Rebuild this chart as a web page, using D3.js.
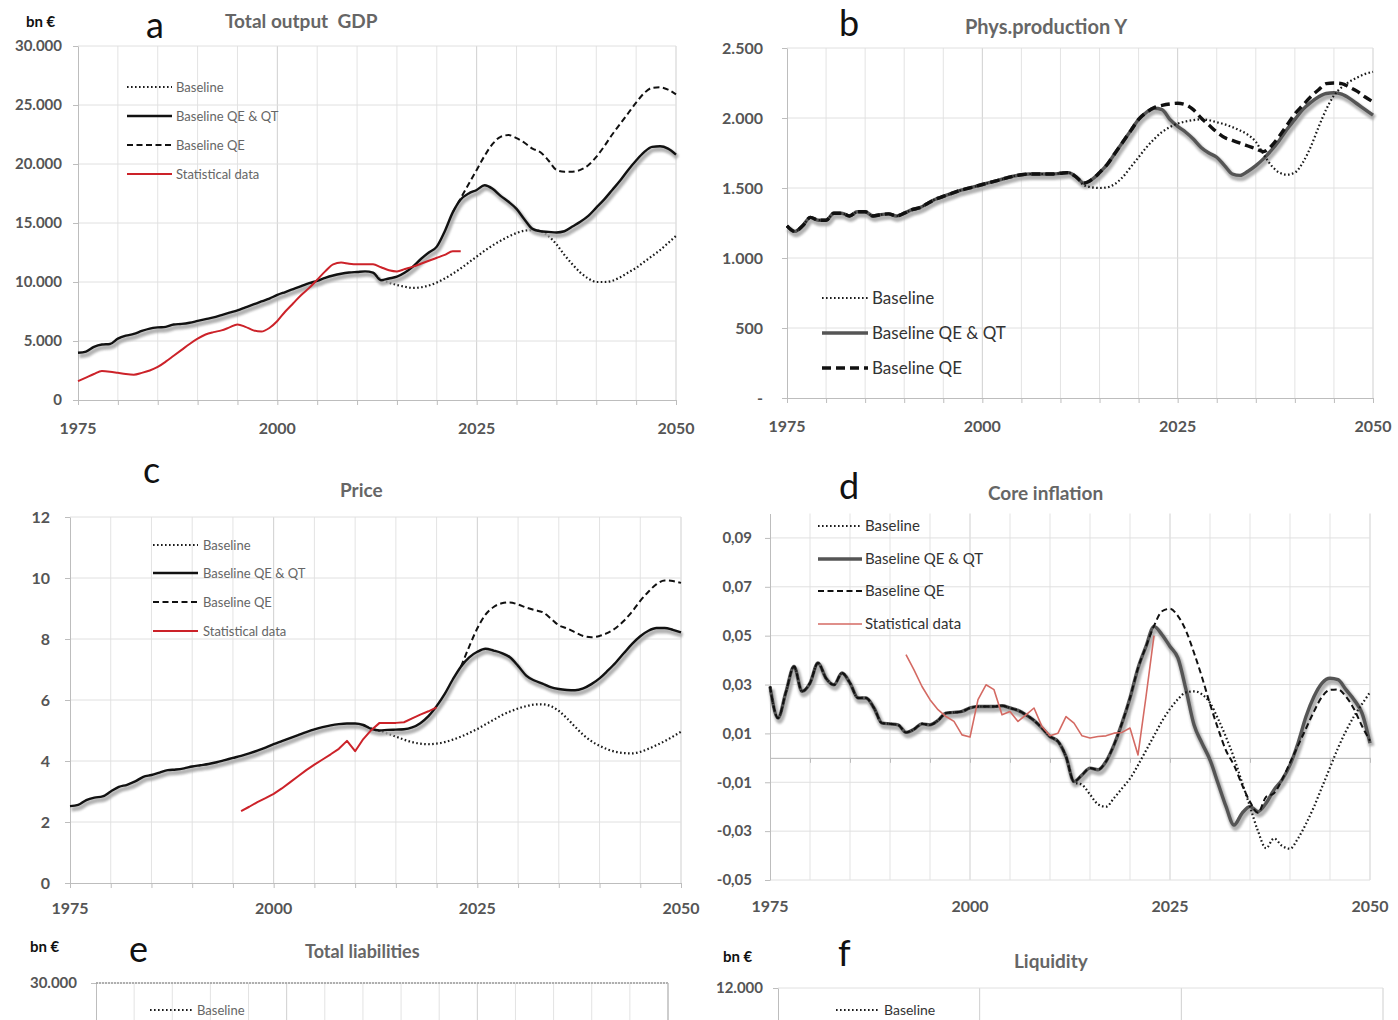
<!DOCTYPE html>
<html><head><meta charset="utf-8">
<script src="https://cdn.jsdelivr.net/npm/d3@7"></script>
<style>
body{margin:0;background:#fff}
svg{display:block}
text{font-family:Lato,"Open Sans",sans-serif;white-space:pre}
</style>
</head><body>
<svg id="chart" width="1398" height="1020"></svg>
<script>
// ---------- DATA ----------
const xLabels = [1975, 2000, 2025, 2050];
const legendNames = ["Baseline", "Baseline QE & QT", "Baseline QE", "Statistical data"];

// (a) Total output GDP, bn €
const gdpTicks = [0, 5000, 10000, 15000, 20000, 25000, 30000];
const gdpQEQTFrom = 1975;
const gdpQEQT = [4000,4100,4500,4700,4750,5200,5450,5600,5850,6050,
  6150,6200,6400,6450,6550,6700,6850,7000,7200,7400,
  7600,7850,8100,8350,8600,8900,9150,9400,9650,9900,
  10100,10350,10550,10700,10800,10850,10900,10800,10150,10300,
  10450,10800,11300,11950,12500,13000,14300,15900,17000,17500,
  17800,18200,17900,17300,16800,16200,15300,14500,14300,14250,
  14200,14300,14700,15100,15600,16300,17000,17800,18600,19500,
  20300,21000,21450,21500,21300,20800];
const gdpBaselineFrom = 2012;
const gdpBaseline = [10800,10200,9950,
  9750,9600,9500,9550,9700,9950,10300,10700,11150,11650,
  12150,12650,13100,13500,13850,14150,14350,14400,14300,13900,
  13200,12300,11500,10800,10300,10000,10000,10100,10400,10800,
  11200,11700,12200,12700,13300,13900];
const gdpQEFrom = 2022;
const gdpQE = [15900,17100,18300,
  19500,20700,21700,22300,22450,22200,21800,21300,21000,20300,
  19500,19350,19350,19500,19900,20600,21500,22500,23400,24300,
  25200,26000,26450,26500,26300,25900];
const gdpStatFrom = 1975;
const gdpStat = [1600,1900,2200,2450,2400,2300,2200,2150,2300,2500,
  2800,3250,3750,4250,4750,5200,5550,5750,5900,6150,
  6400,6200,5900,5800,6100,6700,7500,8200,8900,9500,
  10200,10900,11500,11650,11550,11500,11500,11500,11250,11000,
  10900,11100,11300,11550,11800,12050,12300,12600,12600];

// (b) Phys.production Y
const prodTicks = [0, 500, 1000, 1500, 2000, 2500];
const prodFrom = 1975;
const prodQEQT = [1230,1190,1230,1290,1270,1270,1320,1320,1300,1330,
  1330,1300,1310,1315,1300,1320,1345,1360,1390,1420,
  1440,1460,1480,1495,1510,1525,1540,1555,1570,1585,
  1595,1600,1600,1600,1600,1605,1610,1580,1535,1560,
  1610,1670,1750,1830,1910,1990,2040,2070,2060,1990,
  1940,1900,1850,1790,1750,1720,1660,1600,1590,1620,
  1660,1710,1770,1840,1920,1990,2060,2110,2150,2175,
  2180,2170,2140,2100,2060,2020];
const prodQE = [1230,1190,1230,1290,1270,1270,1320,1320,1300,1330,
  1330,1300,1310,1315,1300,1320,1345,1360,1390,1420,
  1440,1460,1480,1495,1510,1525,1540,1555,1570,1585,
  1595,1600,1600,1600,1600,1605,1610,1580,1535,1560,
  1610,1670,1750,1830,1910,1990,2040,2075,2090,2100,
  2105,2095,2060,2000,1950,1900,1860,1840,1820,1800,
  1780,1760,1800,1870,1950,2030,2090,2150,2200,2245,
  2250,2245,2220,2190,2150,2115];
const prodBaseline = [1230,1190,1230,1290,1270,1270,1320,1320,1300,1330,
  1330,1300,1310,1315,1300,1320,1345,1360,1390,1420,
  1440,1460,1480,1495,1510,1525,1540,1555,1570,1585,
  1595,1600,1600,1600,1600,1605,1610,1580,1520,1505,
  1500,1505,1530,1580,1650,1720,1790,1850,1900,1935,
  1960,1975,1985,1990,1985,1970,1955,1935,1910,1880,
  1830,1740,1660,1610,1595,1610,1680,1790,1930,2060,
  2160,2220,2260,2290,2315,2330];

// (c) Price
const priceTicks = [0, 2, 4, 6, 8, 10, 12];
const priceQEQTFrom = 1975;
const priceQEQT = [2.52,2.56,2.72,2.80,2.84,3.00,3.15,3.22,3.33,3.48,
  3.54,3.62,3.70,3.72,3.76,3.82,3.86,3.90,3.96,4.03,
  4.10,4.17,4.25,4.34,4.44,4.55,4.65,4.75,4.85,4.95,
  5.04,5.11,5.17,5.21,5.23,5.23,5.18,5.05,5.00,5.02,
  5.03,5.04,5.10,5.24,5.47,5.80,6.20,6.68,7.10,7.40,
  7.58,7.68,7.62,7.54,7.40,7.12,6.80,6.64,6.54,6.42,
  6.36,6.33,6.32,6.38,6.52,6.71,6.96,7.23,7.54,7.84,
  8.09,8.27,8.36,8.36,8.30,8.22];
const priceBaselineFrom = 2011;
const priceBaseline = [5.18,5.06,4.98,4.90,
  4.80,4.70,4.62,4.57,4.55,4.57,4.62,4.70,4.80,4.92,
  5.05,5.20,5.35,5.50,5.62,5.72,5.80,5.85,5.86,5.80,
  5.64,5.40,5.12,4.86,4.65,4.50,4.38,4.30,4.26,4.25,
  4.30,4.40,4.52,4.65,4.80,4.96];
const priceQEFrom = 2023;
const priceQE = [7.10,7.75,
  8.35,8.80,9.05,9.17,9.20,9.13,9.03,8.95,8.88,8.68,
  8.45,8.35,8.22,8.10,8.06,8.10,8.20,8.36,8.60,8.90,
  9.25,9.55,9.80,9.92,9.90,9.84];
const priceStatFrom = 1996;
const priceStat = [2.36,2.50,2.65,2.78,2.92,3.10,3.30,3.50,3.70,3.88,
  4.05,4.22,4.40,4.66,4.32,4.72,5.02,5.25,5.25,5.25,
  5.27,5.40,5.52,5.63,5.76];

// (d) Core inflation
const inflTicks = [-0.05, -0.03, -0.01, 0.01, 0.03, 0.05, 0.07, 0.09];
const inflFrom = 1975;
const inflQEQT = [0.0292,0.0163,0.0270,0.0374,0.0272,0.0306,0.0388,0.0326,0.0299,0.0347,
  0.0306,0.0245,0.0245,0.0204,0.0142,0.0139,0.0135,0.0104,0.0117,0.0139,
  0.0135,0.0153,0.0183,0.0186,0.0190,0.0204,0.0210,0.0210,0.0210,0.0213,
  0.0204,0.0194,0.0176,0.0153,0.0122,0.0087,0.0067,0.0005,-0.0097,-0.0070,
  -0.0042,-0.0049,-0.0015,0.0053,0.0142,0.0245,0.0367,0.0456,0.0538,0.0504,
  0.0456,0.0408,0.0279,0.0135,0.0060,-0.0008,-0.0104,-0.0199,-0.0275,-0.0227,
  -0.0199,-0.0220,-0.0186,-0.0131,-0.0090,-0.0029,0.0060,0.0169,0.0251,0.0306,
  0.0326,0.0320,0.0279,0.0238,0.0183,0.0060];
const inflQE = [0.0292,0.0163,0.0270,0.0374,0.0272,0.0306,0.0388,0.0326,0.0299,0.0347,
  0.0306,0.0245,0.0245,0.0204,0.0142,0.0139,0.0135,0.0104,0.0117,0.0139,
  0.0135,0.0153,0.0183,0.0186,0.0190,0.0204,0.0210,0.0210,0.0210,0.0213,
  0.0204,0.0194,0.0176,0.0153,0.0122,0.0087,0.0067,0.0005,-0.0097,-0.0070,
  -0.0042,-0.0049,-0.0015,0.0053,0.0142,0.0245,0.0367,0.0456,0.0540,0.0600,
  0.0610,0.0580,0.0520,0.0430,0.0330,0.0220,0.0120,0.0030,-0.0030,-0.0110,
  -0.0180,-0.0225,-0.0160,-0.0145,-0.0090,-0.0020,0.0050,0.0120,0.0190,0.0250,
  0.0278,0.0280,0.0250,0.0200,0.0130,0.0070];
const inflBaseline = [0.0292,0.0163,0.0270,0.0374,0.0272,0.0306,0.0388,0.0326,0.0299,0.0347,
  0.0306,0.0245,0.0245,0.0204,0.0142,0.0139,0.0135,0.0104,0.0117,0.0139,
  0.0135,0.0153,0.0183,0.0186,0.0190,0.0204,0.0210,0.0210,0.0210,0.0213,
  0.0204,0.0194,0.0176,0.0153,0.0122,0.0087,0.0067,0.0005,-0.0100,-0.0110,
  -0.0150,-0.0190,-0.0200,-0.0165,-0.0125,-0.0085,-0.0030,0.0030,0.0090,0.0150,
  0.0200,0.0240,0.0268,0.0272,0.0260,0.0225,0.0160,0.0085,0.0000,-0.0100,
  -0.0200,-0.0300,-0.0370,-0.0330,-0.0360,-0.0372,-0.0330,-0.0270,-0.0200,-0.0120,
  -0.0040,0.0040,0.0110,0.0170,0.0220,0.0268];
const inflStatFrom = 1992;
const inflStat = [0.0422,0.0360,0.0292,0.0238,0.0197,0.0169,0.0149,0.0094,0.0085,0.0238,
  0.0299,0.0279,0.0176,0.0190,0.0149,0.0176,0.0204,0.0128,0.0090,0.0101,
  0.0169,0.0142,0.0090,0.0081,0.0087,0.0090,0.0101,0.0104,0.0122,0.0012,
  0.0250,0.0500];

// (e) Total liabilities / (f) Liquidity (only top visible)
const liabTicks = [0, 5000, 10000, 15000, 20000, 25000, 30000];
const liqTicks = [0, 2000, 4000, 6000, 8000, 10000, 12000];

// ---------- RENDER ----------
const loc = d3.formatLocale({decimal: ",", thousands: ".", grouping: [3], currency: ["", ""], minus: "-"});
const fmtK = loc.format(",.0f");
const fmtInt = d3.format("d");
const fmtProd = d => d === 0 ? "-" : loc.format(",.0f")(d);
const fmtInfl = loc.format(".2f");

const svg = d3.select("#chart");
const defs = svg.append("defs");
defs.append("filter").attr("id", "blur").attr("x", "-5%").attr("y", "-20%").attr("width", "110%").attr("height", "140%")
  .append("feGaussianBlur").attr("stdDeviation", 1.3);

const fiveYears = d3.range(1975, 2051, 5);

const ST = {
  base:  {stroke: "#1a1a1a", w: 2.2, dash: "1.6,2.4"},
  qeqt:  {stroke: "#111", w: 2.4, shadow: true},
  qe:    {stroke: "#111", w: 2, dash: "6,3.5"},
  red:   {stroke: "#cc2229", w: 2},
  qeqtG: {stroke: "#555", w: 3.4, shadow: true},
  qeB:   {stroke: "#111", w: 3.4, dash: "9,5"},
  redL:  {stroke: "#d46a63", w: 1.6}
};

function toPairs(from, vals) { return vals.map((v, i) => [from + i, v]); }

function drawLine(g, pairs, st, x, y, curve) {
  const ln = d3.line().defined(d => d[1] != null).x(d => x(d[0])).y(d => y(d[1])).curve(curve || d3.curveMonotoneX);
  if (st.shadow) {
    g.append("path").datum(pairs).attr("d", ln).attr("fill", "none")
      .attr("stroke", "#a6a6a6").attr("stroke-width", st.w + 2.5).attr("opacity", 0.85)
      .attr("transform", "translate(1.5,3)").attr("filter", "url(#blur)");
  }
  g.append("path").datum(pairs).attr("d", ln).attr("fill", "none")
    .attr("stroke", st.stroke).attr("stroke-width", st.w)
    .attr("stroke-dasharray", st.dash || null).attr("stroke-linejoin", "round");
}

function drawLegend(g, items, lx0, lx1, tx, ys, fs, col) {
  items.forEach((it, i) => {
    const yy = ys[i];
    const st = it.st;
    if (st.shadow) {
      g.append("line").attr("x1", lx0 + 1).attr("x2", lx1 + 1).attr("y1", yy + 2.5).attr("y2", yy + 2.5)
        .attr("stroke", "#a6a6a6").attr("stroke-width", st.w + 2).attr("filter", "url(#blur)");
    }
    g.append("line").attr("x1", lx0).attr("x2", lx1).attr("y1", yy).attr("y2", yy)
      .attr("stroke", st.stroke).attr("stroke-width", st.w).attr("stroke-dasharray", st.dash || null);
    g.append("text").attr("x", tx).attr("y", yy).attr("dy", "0.35em")
      .attr("font-size", fs).attr("fill", col).text(it.name);
  });
}

function panel(p) {
  const g = svg.append("g");
  const x = d3.scaleLinear().domain([1975, 2050]).range([p.x0, p.x1]);
  const y = d3.scaleLinear().domain(p.yDomain).range([p.yBot, p.yTop]);
  const topY = y(p.yDomain[1]);
  const botY = Math.min(y(p.yDomain[0]), 1030);
  // vertical grid
  g.append("g").selectAll("line").data(p.vGrid.filter(d => d > 1975)).join("line")
    .attr("x1", d => x(d)).attr("x2", d => x(d)).attr("y1", topY).attr("y2", botY)
    .attr("stroke", d => (d - 1975) % 25 === 0 ? "#cfcfcf" : "#e3e3e3").attr("stroke-width", 1);
  // horizontal grid
  g.append("g").selectAll("line").data(p.yTicks.filter(d => d !== p.xAxisAt)).join("line")
    .attr("x1", p.x0).attr("x2", p.x1).attr("y1", d => y(d)).attr("y2", d => y(d))
    .attr("stroke", "#e0e0e0").attr("stroke-width", 1);
  // y axis
  const ya = g.append("g").attr("transform", `translate(${p.x0},0)`)
    .call(d3.axisLeft(y).tickValues(p.yTicks).tickSize(5).tickSizeOuter(0).tickPadding(p.pad).tickFormat(p.fmt));
  ya.select(".domain").attr("stroke", "#bdbdbd");
  ya.selectAll(".tick line").attr("stroke", "#bdbdbd");
  ya.selectAll(".tick text").attr("font-size", p.yfs || 15).attr("font-weight", 700).attr("fill", "#555").attr("font-family", "Lato");
  // x axis
  if (p.xAxisAt != null) {
    const xa = g.append("g").attr("transform", `translate(0,${y(p.xAxisAt)})`)
      .call(d3.axisBottom(x).tickValues(fiveYears).tickSize(5).tickSizeOuter(0).tickFormat(""));
    xa.select(".domain").attr("stroke", p.zeroCol || "#bdbdbd");
    xa.selectAll(".tick line").attr("stroke", "#bdbdbd");
  }
  if (p.xLabelY != null) {
    g.append("g").selectAll("text").data(xLabels).join("text")
      .attr("x", d => x(d)).attr("y", p.xLabelY).attr("dy", "0.35em").attr("text-anchor", "middle")
      .attr("font-size", 16).attr("font-weight", 700).attr("fill", "#555").text(d => fmtInt(d));
  }
  if (p.border) {
    g.append("line").attr("x1", p.x0).attr("x2", p.x1).attr("y1", topY).attr("y2", topY)
      .attr("stroke", "#9a9a9a").attr("stroke-width", 1.6).attr("stroke-dasharray", "2,1");
    g.append("line").attr("x1", p.x1).attr("x2", p.x1).attr("y1", topY).attr("y2", botY)
      .attr("stroke", "#bdbdbd").attr("stroke-width", 1.2);
  }
  // series
  (p.series || []).forEach(s => drawLine(g, toPairs(s.from, s.vals), s.st, x, y, s.curve));
  // legend
  if (p.legend) drawLegend(g, p.legend.items, p.legend.lx0, p.legend.lx1, p.legend.tx, p.legend.ys, p.legend.fs, p.legend.col);
  // titles
  if (p.unit) g.append("text").attr("x", p.unit[0]).attr("y", p.unit[1]).attr("font-size", 15).attr("font-weight", 700).attr("fill", "#111").text("bn €");
  g.append("text").attr("x", p.letter[0]).attr("y", p.letter[1]).attr("font-size", 36).attr("fill", "#111").text(p.letter[2]);
  g.append("text").attr("x", p.title[0]).attr("y", p.title[1]).attr("font-size", p.title[3]).attr("font-weight", 700).attr("fill", "#666").text(p.title[2]);
}

// (a)
panel({
  x0: 78, x1: 676, yTop: 46, yBot: 400, yDomain: [0, 30000], yTicks: gdpTicks, fmt: fmtK, pad: 11,
  vGrid: fiveYears, xAxisAt: 0, xLabelY: 428,
  series: [
    {from: gdpBaselineFrom, vals: gdpBaseline, st: ST.base},
    {from: gdpQEFrom, vals: gdpQE, st: ST.qe},
    {from: gdpQEQTFrom, vals: gdpQEQT, st: ST.qeqt},
    {from: gdpStatFrom, vals: gdpStat, st: ST.red}
  ],
  legend: {items: [{name: legendNames[0], st: ST.base}, {name: legendNames[1], st: {stroke: "#111", w: 2.4}},
    {name: legendNames[2], st: ST.qe}, {name: legendNames[3], st: ST.red}],
    lx0: 127, lx1: 172, tx: 176, ys: [87, 116, 145, 174], fs: 13, col: "#666"},
  unit: [26, 27], letter: [146, 38, "a"], title: [225, 28, "Total output\u00a0 GDP", 19]
});

// (b)
panel({
  x0: 787, x1: 1373, yTop: 48, yBot: 398, yDomain: [0, 2500], yTicks: prodTicks, fmt: fmtProd, pad: 19, yfs: 16,
  vGrid: fiveYears, xAxisAt: 0, xLabelY: 426,
  series: [
    {from: prodFrom, vals: prodQEQT, st: ST.qeqtG},
    {from: prodFrom, vals: prodBaseline, st: ST.base},
    {from: prodFrom, vals: prodQE, st: ST.qeB}
  ],
  legend: {items: [{name: legendNames[0], st: ST.base}, {name: legendNames[1], st: ST.qeqtG}, {name: legendNames[2], st: ST.qeB}],
    lx0: 822, lx1: 868, tx: 872, ys: [298, 333, 368], fs: 17, col: "#333"},
  letter: [839, 36, "b"], title: [965, 34, "Phys.production Y", 20]
});

// (c)
panel({
  x0: 70, x1: 681, yTop: 517, yBot: 883, yDomain: [0, 12], yTicks: priceTicks, fmt: fmtInt, pad: 15, yfs: 16,
  vGrid: fiveYears, xAxisAt: 0, xLabelY: 908,
  series: [
    {from: priceBaselineFrom, vals: priceBaseline, st: ST.base},
    {from: priceQEFrom, vals: priceQE, st: ST.qe},
    {from: priceQEQTFrom, vals: priceQEQT, st: ST.qeqt},
    {from: priceStatFrom, vals: priceStat, st: ST.red, curve: d3.curveLinear}
  ],
  legend: {items: [{name: legendNames[0], st: ST.base}, {name: legendNames[1], st: {stroke: "#111", w: 2.4}},
    {name: legendNames[2], st: ST.qe}, {name: legendNames[3], st: ST.red}],
    lx0: 153, lx1: 198, tx: 203, ys: [545, 573, 602, 631], fs: 13, col: "#666"},
  letter: [143, 483, "c"], title: [340, 497, "Price", 19]
});

// (d)
panel({
  x0: 770, x1: 1370, yTop: 513.5, yBot: 880, yDomain: [-0.05, 0.10], yTicks: inflTicks, fmt: fmtInfl, pad: 13, yfs: 15,
  vGrid: fiveYears, xAxisAt: 0, zeroCol: "#b5b5b5", xLabelY: 906,
  series: [
    {from: inflFrom, vals: inflQEQT, st: ST.qeqtG},
    {from: inflFrom, vals: inflBaseline, st: ST.base},
    {from: inflFrom, vals: inflQE, st: ST.qe},
    {from: inflStatFrom, vals: inflStat, st: ST.redL, curve: d3.curveLinear}
  ],
  legend: {items: [{name: legendNames[0], st: ST.base}, {name: legendNames[1], st: ST.qeqtG},
    {name: legendNames[2], st: ST.qe}, {name: legendNames[3], st: ST.redL}],
    lx0: 818, lx1: 862, tx: 865, ys: [526, 559, 591, 624], fs: 15, col: "#333"},
  letter: [839, 499, "d"], title: [988, 500, "Core inflation", 19]
});

// (e)
panel({
  x0: 96, x1: 668, yTop: 983, yBot: 1340, yDomain: [0, 30000], yTicks: liabTicks.filter(d => d === 30000), fmt: fmtK, pad: 14,
  vGrid: fiveYears, xAxisAt: null, xLabelY: null, border: true,
  legend: {items: [{name: legendNames[0], st: ST.base}], lx0: 150, lx1: 192, tx: 197, ys: [1010], fs: 13, col: "#666"},
  unit: [30, 952], letter: [129, 962, "e"], title: [305, 958, "Total liabilities", 18]
});

// (f)
panel({
  x0: 778, x1: 1383, yTop: 988, yBot: 1340, yDomain: [0, 12000], yTicks: liqTicks.filter(d => d === 12000), fmt: fmtK, pad: 10,
  vGrid: [2000, 2025, 2050], xAxisAt: null, xLabelY: null,
  legend: {items: [{name: legendNames[0], st: ST.base}], lx0: 836, lx1: 880, tx: 884, ys: [1010], fs: 14, col: "#333"},
  unit: [723, 962], letter: [838, 966, "f"], title: [1014, 968, "Liquidity", 19]
});
</script>
</body></html>
